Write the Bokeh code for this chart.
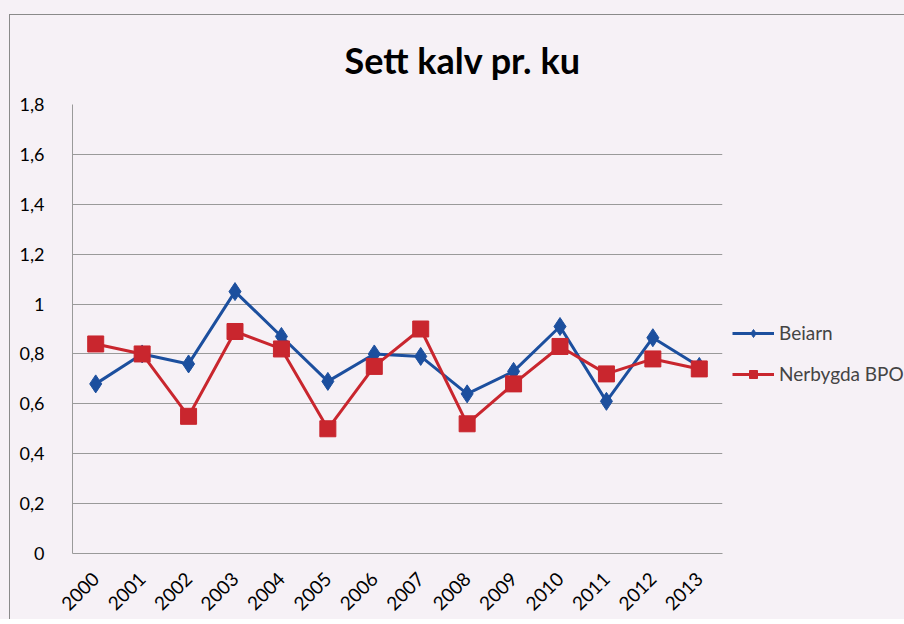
import math
from bokeh.plotting import figure
from bokeh.models import (FactorRange, Range1d, FixedTicker, CustomJSTickFormatter,
                          Legend, LegendItem, Title)
from bokeh.embed import file_html
from bokeh.resources import INLINE

years = [str(y) for y in range(2000, 2014)]
beiarn = [0.68, 0.80, 0.76, 1.05, 0.87, 0.69, 0.80, 0.79, 0.64, 0.73, 0.91, 0.61, 0.865, 0.75]
nerbygda = [0.84, 0.80, 0.55, 0.89, 0.82, 0.50, 0.75, 0.90, 0.52, 0.68, 0.83, 0.72, 0.78, 0.74]
y_ticks = [0, 0.2, 0.4, 0.6, 0.8, 1.0, 1.2, 1.4, 1.6, 1.8]
title_text = "Sett kalv pr. ku"
series_names = ["Beiarn", "Nerbygda BPO"]

BG = "#f6f1f6"
BLUE = "#1c4f9e"
RED = "#c9262e"
GRID = "#9a9a9a"
EDGE = "#8a8a8a"
FONT = "Lato"

p = figure(frame_width=650, frame_height=449, x_range=FactorRange(*years, range_padding=0),
           y_range=Range1d(0, 1.8), output_backend="svg", toolbar_location=None,
           min_border_left=72, min_border_right=20, min_border_top=104, min_border_bottom=55,
           background_fill_color=BG, border_fill_alpha=0, outline_line_color=None)
p.styles = {
    "background": (f"linear-gradient({EDGE},{EDGE}) 9px 14px / 1px 100% no-repeat, "
                   f"linear-gradient({EDGE},{EDGE}) 9px 14px / 100% 1px no-repeat, {BG}")
}

t = Title(text=title_text, align="left", text_font=FONT, text_font_style="bold",
          text_font_size="36px", text_color="#000000", offset=272, standoff=46)
p.add_layout(t, "above")

p.xgrid.grid_line_color = None
p.ygrid.grid_line_color = GRID
p.ygrid.grid_line_width = 1
p.yaxis.ticker = FixedTicker(ticks=y_ticks)
p.yaxis.formatter = CustomJSTickFormatter(code="return String(Number(tick.toFixed(1))).replace('.', ',');")

for ax in (p.xaxis[0], p.yaxis[0]):
    ax.axis_line_color = GRID
    ax.major_tick_line_color = None
    ax.minor_tick_line_color = None
    ax.major_label_text_font = FONT
    ax.major_label_text_color = "#000000"
p.yaxis.major_label_text_font_size = "18px"
p.xaxis.major_label_text_font_size = "19px"
p.yaxis.major_label_standoff = 22
p.xaxis.major_label_standoff = 16
p.xaxis.major_label_orientation = math.pi / 4

l1 = p.line(years, beiarn, line_color=BLUE, line_width=3)
m1 = p.scatter(years, beiarn, marker="diamond", size=18, fill_color=BLUE, line_color=BLUE)
l2 = p.line(years, nerbygda, line_color=RED, line_width=3)
m2 = p.scatter(years, nerbygda, marker="square", size=16, fill_color=RED, line_color=RED)

legend = Legend(items=[LegendItem(label=series_names[0], renderers=[l1, m1]),
                       LegendItem(label=series_names[1], renderers=[l2, m2])],
                location=(10, 168), orientation="vertical",
                background_fill_alpha=0, border_line_color=None,
                label_text_font=FONT, label_text_font_size="19px",
                glyph_width=42, glyph_height=20, label_height=20, spacing=18,
                padding=0, margin=0, label_standoff=5)
p.add_layout(legend, "right")

open("out.html", "w").write(file_html(p, INLINE))
